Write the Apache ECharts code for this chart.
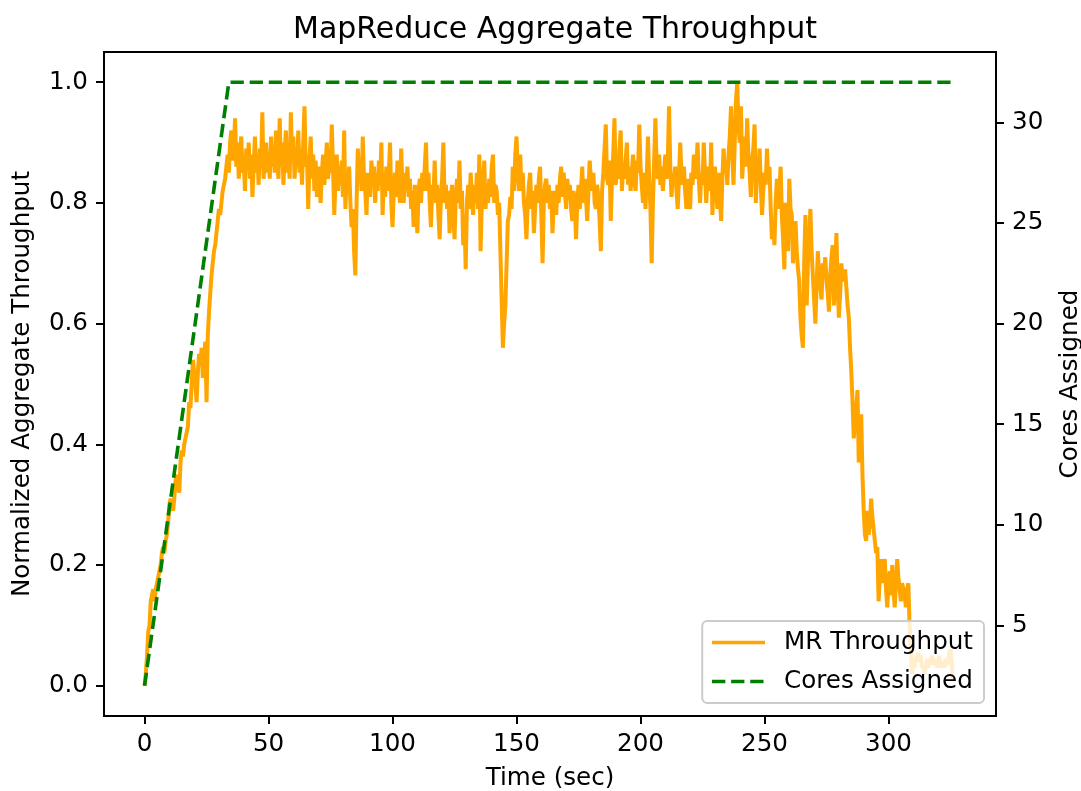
<!DOCTYPE html>
<html>
<head>
<meta charset="utf-8">
<script src="https://cdn.jsdelivr.net/npm/echarts@6/dist/echarts.min.js"></script>
<style>
html,body{margin:0;padding:0;background:#fff;}
#chart{width:1081px;height:791px;}
</style>
</head>
<body>
<div id="chart"></div>
<script>
// ---- data ----
const sampleStep = 0.5; // seconds between throughput samples
const segmentStarts = [0, 34.5, 70.5, 150.5, 230.5, 285.5];
const throughputRamp = [0,.02,.05,.09,.1,.14,.15,.16,.14,.16,.17,.18,.19,.2,.22,.23,.22,.24,.25,.27,
  .3,.31,.3,.29,.31,.34,.35,.33,.32,.37,.39,.38,.4,.41,.41,.43,.47,.46,.5,.54,
  .52,.5,.47,.52,.55,.53,.56,.51,.54,.57,.47,.58,.62,.65,.68,.7,.72,.73,.75,.77,
  .79,.78,.8,.82,.83,.84,.86,.88,.85];
const throughputEarly = [
  .9,.92,.87,.89,.94,.86,.9,.84,.88,.91,
  .85,.87,.82,.89,.86,.9,.84,.88,.81,.86,
  .91,.85,.88,.83,.89,.86,.95,.84,.87,.9,
  .85,.88,.84,.91,.86,.89,.85,.92,.87,.84,
  .94,.86,.9,.83,.88,.92,.85,.89,.84,.95,
  .87,.91,.84,.88,.86,.92,.85,.89,.83,.9,
  .96,.86,.88,.79,.87,.91,.84,.88,.82,.87,
  .81,.86];
const throughputMid1 = [
  .84,.8,.85,.88,.83,.86,.9,.84,.87,.85,
  .93,.86,.78,.84,.88,.82,.86,.83,.87,.81,
  .92,.79,.85,.83,.86,.8,.76,.79,.72,.68,
  .8,.89,.84,.86,.82,.91,.84,.82,.78,.85,
  .83,.81,.87,.83,.86,.8,.85,.82,.87,.83,
  .9,.78,.84,.81,.86,.82,.85,.9,.8,.76,
  .82,.85,.81,.87,.83,.8,.89,.82,.8,.85,
  .82,.86,.81,.84,.79,.82,.76,.83,.8,.75,
  .82,.84,.8,.85,.82,.86,.9,.82,.85,.8,
  .76,.83,.81,.87,.8,.83,.78,.74,.81,.84,
  .9,.8,.83,.79,.82,.75,.8,.83,.78,.74,
  .81,.84,.8,.87,.79,.82,.73,.78,.69,.8,
  .83,.79,.85,.81,.78,.83,.8,.85,.79,.88,
  .72,.8,.84,.87,.79,.82,.8,.84,.81,.86,
  .88,.8,.83,.82,.78,.8,.72,.64,.56,.6,
  .63,.7,.77,.78,.81,.79,.86,.82,.88,.91];
const throughputMid2 = [
  .85,.82,.88,.82,.85,.8,.78,.74,.8,.83,
  .85,.79,.82,.75,.79,.83,.8,.84,.86,.78,
  .7,.8,.83,.84,.8,.83,.79,.82,.75,.8,
  .82,.78,.83,.8,.84,.86,.81,.85,.82,.79,
  .84,.81,.83,.79,.77,.82,.8,.74,.8,.83,
  .79,.82,.86,.8,.84,.81,.77,.82,.87,.84,
  .82,.85,.8,.79,.83,.81,.77,.72,.82,.85,
  .89,.93,.84,.83,.87,.77,.84,.88,.94,.83,
  .86,.84,.89,.92,.82,.86,.84,.87,.9,.83,
  .86,.82,.85,.88,.84,.82,.87,.85,.93,.86,
  .83,.8,.85,.79,.84,.91,.84,.79,.7,.8,
  .87,.94,.86,.84,.88,.83,.86,.82,.85,.88,
  .84,.87,.96,.86,.81,.85,.83,.86,.82,.79,
  .84,.9,.85,.83,.86,.82,.79,.84,.81,.79,
  .85,.83,.88,.84,.86,.9,.84,.8,.85,.83,
  .9,.85,.8,.84,.86,.82,.9,.78,.84,.86];
const throughputDecline = [
  .82,.79,.85,.81,.77,.84,.89,.85,.87,.83,
  .88,.91,.96,.88,.83,.9,.97,1.0,.93,.9,
  .96,.84,.88,.91,.86,.94,.88,.85,.81,.87,
  .89,.93,.8,.85,.84,.89,.83,.78,.82,.85,
  .83,.89,.84,.86,.79,.74,.77,.73,.8,.84,
  .79,.82,.86,.78,.74,.69,.8,.76,.72,.84,
  .79,.78,.7,.74,.77,.72,.69,.67,.61,.58,
  .56,.7,.78,.63,.7,.74,.79,.72,.68,.64,
  .6,.66,.72,.68,.66,.64,.7,.68,.71,.67,
  .65,.62,.68,.71,.73,.63,.69,.75,.66,.61,
  .65,.7,.67,.68,.69,.66,.63,.61,.56,.52];
const throughputTail = [
  .47,.41,.44,.46,.49,.37,.42,.45,.35,.29,
  .25,.24,.29,.25,.27,.31,.28,.26,.24,.22,
  .23,.14,.18,.21,.17,.2,.21,.16,.13,.17,
  .19,.15,.2,.16,.13,.17,.21,.18,.16,.14,
  .17,.17,.15,.13,.16,.17,.1,.06,.02,.04,
  .03,.05,.04,.055,.045,.05,.03,.035,.02,.03,
  .045,.03,.04,.035,.05,.04,.035,.045,.03,.04,
  .05,.03,.035,.04,.03,.045,.035,.04,.055,.06,
  .04,.01];
const coreTimes = [0, 34, 327];
const coreValues = [2, 32, 32];
const xTicks = [0, 50, 100, 150, 200, 250, 300];
const leftTicks = [0, 0.2, 0.4, 0.6, 0.8, 1.0];
const rightTicks = [5, 10, 15, 20, 25, 30];

// ---- build series data ----
const segments = [throughputRamp, throughputEarly, throughputMid1, throughputMid2, throughputDecline, throughputTail];
const throughputData = [];
segments.forEach((seg, s) => {
  seg.forEach((v, i) => throughputData.push([segmentStarts[s] + i * sampleStep, v]));
});
const coresData = coreTimes.map((t, i) => [t, coreValues[i]]);

const FONT = 'DejaVu Sans';
const FS = 24.6;
const chart = echarts.init(document.getElementById('chart'), null, {renderer: 'canvas'});
const tickStyle = {color: '#000', width: 2};
const axisCommon = {
  axisLine: {show: true, onZero: false, lineStyle: {color: '#000', width: 2}},
  splitLine: {show: false},
  axisLabel: {color: '#000', fontFamily: FONT, fontSize: FS, margin: 16},
  nameTextStyle: {color: '#000', fontFamily: FONT, fontSize: FS},
};
chart.setOption({
  animation: false,
  backgroundColor: '#fff',
  title: {
    text: 'MapReduce Aggregate Throughput',
    left: 288, top: 10,
    textStyle: {color: '#000', fontFamily: FONT, fontSize: 30, fontWeight: 'normal'}
  },
  grid: {left: 104, right: 85, top: 52, bottom: 75, outerBoundsMode: 'none', containLabel: false,
         show: true, borderColor: '#000', borderWidth: 2, backgroundColor: 'transparent'},
  legend: {
    orient: 'vertical',
    right: 97, bottom: 88,
    padding: [9, 11, 9, 8],
    itemGap: 14,
    itemWidth: 53, itemHeight: 24,
    itemStyle: {opacity: 0},
    lineStyle: {width: 3.6},
    backgroundColor: 'rgba(255,255,255,0.8)',
    borderColor: '#cccccc', borderWidth: 2, borderRadius: 5,
    textStyle: {color: '#000', fontFamily: FONT, fontSize: FS, padding: [0, 0, 0, 14]},
    data: ['MR Throughput', 'Cores Assigned']
  },
  xAxis: Object.assign({}, axisCommon, {
    type: 'value', min: -16.35, max: 343.35,
    name: 'Time (sec)', nameLocation: 'middle', nameGap: 50,
    axisTick: {show: true, length: 8, lineStyle: tickStyle, customValues: xTicks},
    axisLabel: Object.assign({}, axisCommon.axisLabel, {customValues: xTicks})
  }),
  yAxis: [
    Object.assign({}, axisCommon, {
      type: 'value', min: -0.05, max: 1.05, position: 'left',
      name: 'Normalized Aggregate Throughput', nameLocation: 'middle', nameGap: 69,
      axisTick: {show: true, length: 8, lineStyle: tickStyle, customValues: leftTicks},
      axisLabel: Object.assign({}, axisCommon.axisLabel, {customValues: leftTicks, formatter: v => v.toFixed(1)})
    }),
    Object.assign({}, axisCommon, {
      type: 'value', min: 0.5, max: 33.5, position: 'right',
      name: 'Cores Assigned', nameLocation: 'middle', nameGap: 62,
      axisTick: {show: true, length: 8, lineStyle: tickStyle, customValues: rightTicks},
      axisLabel: Object.assign({}, axisCommon.axisLabel, {customValues: rightTicks})
    })
  ],
  series: [
    {
      name: 'MR Throughput', type: 'line', yAxisIndex: 0,
      data: throughputData, showSymbol: false, symbol: 'none', sampling: null,
      lineStyle: {color: '#FFA500', width: 4}, itemStyle: {color: '#FFA500'}, z: 2
    },
    {
      name: 'Cores Assigned', type: 'line', yAxisIndex: 1,
      data: coresData, showSymbol: false, symbol: 'none',
      lineStyle: {color: '#008000', width: 3.6, type: [13.3, 5.8]}, itemStyle: {color: '#008000'}, z: 3
    }
  ]
});
</script>
</body>
</html>
